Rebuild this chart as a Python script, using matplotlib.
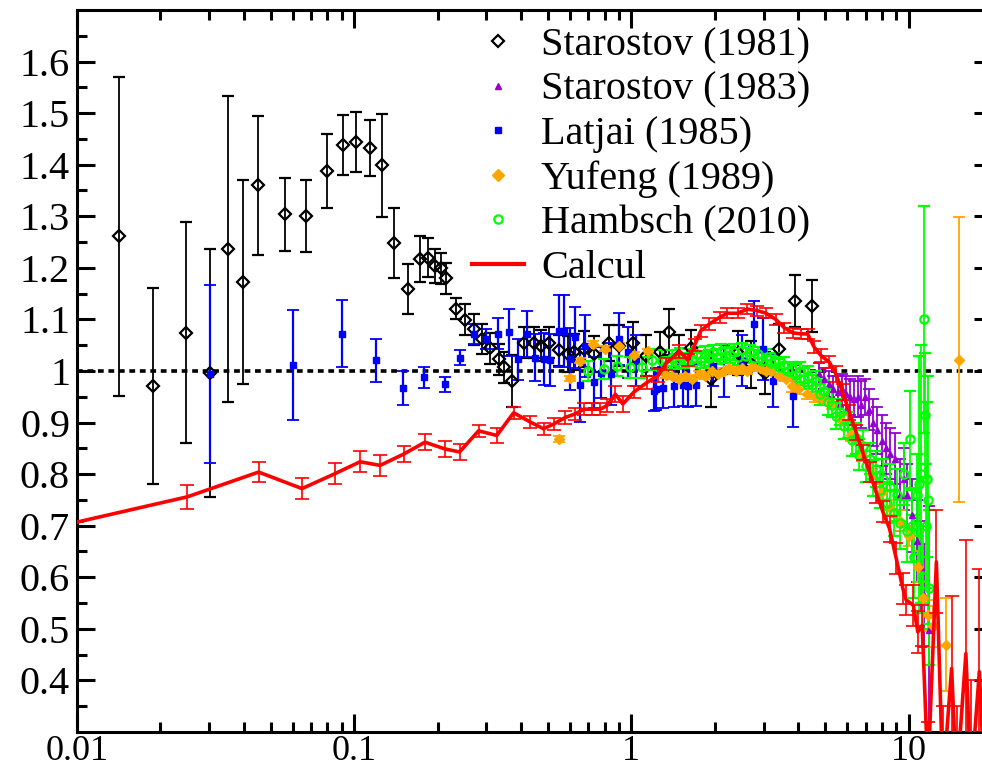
import numpy as np
import matplotlib
matplotlib.use("Agg")
import matplotlib.pyplot as plt
from matplotlib.lines import Line2D
from matplotlib.ticker import LogLocator, NullFormatter, FixedLocator

plt.rcParams['font.family'] = ['Liberation Serif', 'DejaVu Serif']

# Starostov (1981)
star81_x = [0.0142, 0.01875, 0.0247, 0.0302, 0.0352, 0.0398, 0.0449, 0.0564, 0.067, 0.0797,
            0.0914, 0.1016, 0.1143, 0.126, 0.139, 0.156, 0.173, 0.185, 0.195, 0.2056,
            0.214, 0.233, 0.252, 0.27, 0.289, 0.31, 0.332, 0.346, 0.371, 0.411,
            0.446, 0.471, 0.505, 0.547, 0.589, 0.623, 0.676, 0.735, 0.833, 0.905,
            1.016, 1.13, 1.27, 1.37, 1.49, 1.64, 1.94, 2.42, 2.7, 3.04,
            3.4, 3.88, 4.5]
star81_y = [1.261, 0.970, 1.074, 0.996, 1.237, 1.172, 1.360, 1.304, 1.301, 1.388,
            1.438, 1.444, 1.432, 1.399, 1.248, 1.159, 1.217, 1.220, 1.204, 1.199,
            1.180, 1.121, 1.099, 1.081, 1.062, 1.044, 1.023, 1.007, 0.981, 1.055,
            1.055, 1.049, 1.055, 1.040, 1.033, 1.036, 1.043, 1.033, 1.055, 1.049,
            1.055, 1.030, 1.036, 1.076, 1.030, 1.045, 0.985, 1.035, 1.013, 0.996,
            1.042, 1.136, 1.126]
star81_e = [0.31, 0.19, 0.214, 0.24, 0.297, 0.198, 0.135, 0.071, 0.07, 0.071,
            0.058, 0.059, 0.054, 0.1, 0.068, 0.048, 0.045, 0.037, 0.033, 0.03,
            0.03, 0.02, 0.03, 0.03, 0.03, 0.03, 0.03, 0.03, 0.05, 0.03,
            0.03, 0.03, 0.03, 0.03, 0.035, 0.035, 0.035, 0.035, 0.035, 0.04,
            0.04, 0.04, 0.04, 0.045, 0.04, 0.035, 0.055, 0.043, 0.046, 0.04,
            0.05, 0.05, 0.05]

# Starostov (1983)
star83_x = [4.77, 4.95, 5.15, 5.35, 5.55, 5.75, 5.95, 6.15, 6.35, 6.55,
            6.75, 6.95, 7.2, 7.45, 7.7, 8.0, 8.3, 8.6, 8.9, 9.3,
            9.6, 9.9, 10.3, 10.7, 11.1, 11.4, 11.9]
star83_y = [0.995, 0.985, 0.975, 0.965, 0.960, 0.965, 0.955, 0.950, 0.945, 0.950,
            0.935, 0.950, 0.925, 0.900, 0.885, 0.865, 0.850, 0.840, 0.830, 0.760,
            0.790, 0.760, 0.720, 0.670, 0.620, 0.565, 0.497]
star83_e = [0.02, 0.02, 0.025, 0.025, 0.03, 0.03, 0.035, 0.035, 0.035, 0.04,
            0.045, 0.035, 0.04, 0.045, 0.045, 0.05, 0.05, 0.05, 0.05, 0.07,
            0.06, 0.06, 0.07, 0.08, 0.09, 0.1, 0.242]

# Latjai (1985)
latj_x = [0.0302, 0.0601, 0.0902, 0.1197, 0.1497, 0.179, 0.212, 0.24, 0.27, 0.30,
          0.33, 0.361, 0.39, 0.42, 0.45, 0.482, 0.51, 0.547, 0.57, 0.603,
          0.628, 0.65, 0.682, 0.735, 0.78, 0.845, 0.905, 0.97, 1.04, 1.21,
          1.23, 1.30, 1.42, 1.53, 1.60, 1.71, 1.97, 2.15, 2.5, 2.78,
          2.98, 3.24, 3.83]
latj_y = [0.994, 1.012, 1.072, 1.021, 0.967, 0.988, 0.974, 1.026, 1.072, 1.062,
          1.072, 1.075, 1.023, 1.072, 1.026, 1.023, 1.021, 1.078, 1.078, 1.023,
          1.065, 0.972, 1.049, 0.978, 0.997, 0.994, 1.062, 1.036, 1.020, 0.962,
          0.965, 0.968, 0.970, 0.973, 0.970, 0.973, 1.010, 1.000, 1.020, 1.091,
          1.043, 0.981, 0.952]
latj_e = [0.172, 0.107, 0.065, 0.042, 0.033, 0.02, 0.015, 0.015, 0.02, 0.02,
          0.03, 0.045, 0.04, 0.045, 0.045, 0.05, 0.05, 0.07, 0.07, 0.06,
          0.06, 0.07, 0.06, 0.05, 0.05, 0.06, 0.05, 0.05, 0.05, 0.04,
          0.04, 0.04, 0.04, 0.04, 0.04, 0.04, 0.04, 0.05, 0.05, 0.045,
          0.06, 0.05, 0.06]

# Yufeng (1989)
yuf_x = [0.55, 0.603, 0.652, 0.73, 0.806, 0.9, 1.025, 1.15, 1.33, 1.40,
         1.48, 1.56, 1.65, 1.75, 1.85, 1.95, 2.05, 2.15, 2.25, 2.38,
         2.5, 2.62, 2.75, 2.9, 3.05, 3.2, 3.4, 3.6, 3.8, 4.0,
         4.3, 4.6, 4.9, 5.3, 5.7, 6.2, 6.8, 7.4, 8.0, 8.6,
         9.3, 10.0, 10.8, 11.3, 11.8, 12.3, 13.7, 15.2]
yuf_y = [0.868, 0.986, 1.020, 1.053, 1.043, 1.049, 1.031, 1.038, 0.992, 0.990,
         0.985, 0.990, 0.985, 0.995, 0.990, 1.000, 0.995, 1.000, 1.005, 1.000,
         1.005, 1.000, 1.010, 1.005, 1.000, 1.000, 0.990, 0.985, 0.970, 0.965,
         0.955, 0.950, 0.946, 0.936, 0.905, 0.875, 0.835, 0.800, 0.765, 0.735,
         0.710, 0.680, 0.620, 0.560, 0.526, 0.505, 0.469, 1.022]
yuf_e = [0.005, 0.005, 0.005, 0.005, 0.005, 0.005, 0.005, 0.005, 0.005, 0.005,
         0.005, 0.005, 0.005, 0.005, 0.005, 0.005, 0.005, 0.005, 0.005, 0.005,
         0.005, 0.005, 0.005, 0.005, 0.005, 0.005, 0.005, 0.005, 0.01, 0.01,
         0.01, 0.01, 0.01, 0.01, 0.01, 0.01, 0.01, 0.01, 0.015, 0.015,
         0.02, 0.02, 0.03, 0.03, 0.03, 0.04, 0.09, 0.276]

# Hambsch (2010)
hamb_x = [0.695, 0.797, 0.89, 0.99, 1.09, 1.19, 1.29, 1.35, 1.40, 1.45,
          1.50, 1.55, 1.60, 1.66, 1.72, 1.78, 1.84, 1.90, 1.97, 2.04,
          2.11, 2.18, 2.26, 2.34, 2.42, 2.50, 2.59, 2.68, 2.77, 2.87,
          2.97, 3.08, 3.19, 3.30, 3.42, 3.54, 3.66, 3.79, 3.92, 4.06,
          4.20, 4.35, 4.50, 4.63, 4.80, 4.95, 5.10, 5.30, 5.47, 5.65,
          5.85, 6.05, 6.25, 6.47, 6.65, 6.84, 7.03, 7.23, 7.45, 7.65,
          7.90, 8.10, 8.35, 8.60, 8.85, 9.10, 9.35, 9.60, 9.85, 10.1,
          10.3, 10.5, 10.7, 10.9, 11.1, 11.25, 11.4, 11.5, 11.6, 11.7,
          11.8, 11.9]
hamb_y = [1.000, 1.004, 1.010, 1.007, 1.007, 1.022, 1.020, 1.012, 1.025, 1.018,
          1.030, 1.020, 1.028, 1.024, 1.032, 1.020, 1.033, 1.025, 1.036, 1.028,
          1.038, 1.030, 1.031, 1.037, 1.027, 1.040, 1.030, 1.036, 1.025, 1.032,
          1.020, 1.027, 1.015, 1.020, 1.008, 1.012, 1.000, 1.003, 0.993, 0.998,
          0.985, 0.990, 0.972, 0.980, 0.955, 0.962, 0.940, 0.935, 0.912, 0.920,
          0.893, 0.895, 0.866, 0.870, 0.838, 0.855, 0.815, 0.830, 0.792, 0.810,
          0.770, 0.790, 0.745, 0.775, 0.725, 0.760, 0.705, 0.800, 0.690, 0.868,
          0.700, 0.640, 0.760, 0.780, 0.800, 0.600, 1.100, 0.914, 0.700, 0.790,
          0.750, 0.580]
hamb_e = [0.02, 0.02, 0.02, 0.02, 0.02, 0.02, 0.02, 0.015, 0.015, 0.015,
          0.015, 0.015, 0.015, 0.015, 0.015, 0.015, 0.015, 0.015, 0.015, 0.015,
          0.015, 0.015, 0.015, 0.015, 0.015, 0.015, 0.015, 0.015, 0.015, 0.015,
          0.015, 0.015, 0.015, 0.015, 0.015, 0.015, 0.015, 0.015, 0.02, 0.02,
          0.02, 0.02, 0.02, 0.02, 0.02, 0.02, 0.025, 0.025, 0.025, 0.025,
          0.025, 0.025, 0.03, 0.03, 0.03, 0.03, 0.03, 0.03, 0.035, 0.035,
          0.035, 0.04, 0.04, 0.045, 0.045, 0.05, 0.05, 0.06, 0.06, 0.094,
          0.07, 0.08, 0.08, 0.25, 0.25, 0.1, 0.22, 0.12, 0.12, 0.15,
          0.24, 0.15]

# Calcul
calc_x = [0.01, 0.025, 0.0452, 0.0648, 0.0853, 0.105, 0.124, 0.151, 0.18, 0.212,
          0.24, 0.281, 0.327, 0.376, 0.432, 0.482, 0.524, 0.578, 0.628, 0.673,
          0.722, 0.773, 0.817, 0.875, 0.932, 1.02, 1.14, 1.25, 1.33, 1.49,
          1.6, 1.69, 1.78, 1.91, 2.08, 2.22, 2.42, 2.62, 2.85, 3.06,
          3.32, 3.56, 3.82, 4.09, 4.32, 4.57, 4.83, 5.18, 5.47, 5.78,
          6.12, 6.47, 6.84, 7.23, 7.64, 8.08, 8.54, 9.03, 9.54, 9.8,
          10.4, 10.8, 11.2, 11.75, 12.6, 13.3, 14.3, 14.9, 16.1, 16.8,
          18.0, 18.8, 19.6]
calc_y = [0.707, 0.756, 0.804, 0.772, 0.801, 0.824, 0.817, 0.839, 0.862, 0.849,
          0.843, 0.884, 0.875, 0.919, 0.901, 0.888, 0.897, 0.910, 0.917, 0.926,
          0.926, 0.926, 0.933, 0.955, 0.936, 0.959, 0.978, 0.991, 1.014, 1.038,
          1.021, 1.050, 1.078, 1.091, 1.104, 1.112, 1.112, 1.120, 1.117, 1.112,
          1.100, 1.084, 1.074, 1.072, 1.072, 1.046, 1.030, 1.017, 0.994, 0.959,
          0.920, 0.881, 0.842, 0.804, 0.765, 0.727, 0.694, 0.636, 0.578, 0.556,
          0.546, 0.494, 0.507, 0.220, 0.630, 0.200, 0.423, 0.200, 0.452, 0.200,
          0.417, 0.200, 0.450]
calc_e = [0.0, 0.023, 0.02, 0.02, 0.02, 0.02, 0.02, 0.015, 0.015, 0.015,
          0.015, 0.012, 0.015, 0.012, 0.012, 0.012, 0.012, 0.012, 0.012, 0.012,
          0.012, 0.012, 0.012, 0.015, 0.015, 0.012, 0.012, 0.012, 0.012, 0.012,
          0.012, 0.012, 0.012, 0.012, 0.01, 0.01, 0.01, 0.01, 0.01, 0.01,
          0.01, 0.01, 0.01, 0.01, 0.01, 0.012, 0.012, 0.012, 0.015, 0.015,
          0.015, 0.015, 0.015, 0.02, 0.02, 0.02, 0.025, 0.03, 0.03, 0.03,
          0.04, 0.04, 0.04, 0.1, 0.1, 0.15, 0.14, 0.15, 0.22, 0.2,
          0.2, 0.2, 0.2]

black = 'black'
purple = '#9400D3'
blue = '#0000FF'
orange = '#FFA500'
green = '#00FF00'
red = '#FF0000'

fig = plt.figure(figsize=(9.82, 7.75), dpi=100)
ax = fig.add_axes([77 / 982, 43 / 775, (992 - 77) / 982, 722 / 775])

# reference line at ratio 1
ax.axhline(1.0, color='black', lw=2.6, ls=(0, (1.6, 1.3)), zorder=1)

ax.errorbar(star81_x, star81_y, yerr=star81_e, fmt='D', ms=6, mfc='none', mec=black,
            mew=1.6, ecolor=black, elinewidth=1.3, capsize=4.5, capthick=1.3, zorder=3)
ax.errorbar(star83_x, star83_y, yerr=star83_e, fmt='^', ms=5, color=purple,
            ecolor=purple, elinewidth=1.3, capsize=4, capthick=1.3, zorder=3)
ax.errorbar(latj_x, latj_y, yerr=latj_e, fmt='s', ms=5, color=blue,
            ecolor=blue, elinewidth=1.6, capsize=4, capthick=1.3, zorder=3)
ax.errorbar(yuf_x, yuf_y, yerr=yuf_e, fmt='D', ms=5.5, color=orange,
            ecolor=orange, elinewidth=1.3, capsize=4, capthick=1.3, zorder=3)
ax.errorbar(hamb_x, hamb_y, yerr=hamb_e, fmt='o', ms=6, mfc='none', mec=green,
            mew=1.6, ecolor=green, elinewidth=1.3, capsize=4, capthick=1.3, zorder=3)
ax.errorbar(calc_x, calc_y, yerr=calc_e, fmt='-', color=red, lw=2.6,
            ecolor=red, elinewidth=1.2, capsize=5, capthick=1.2, zorder=4)

ax.set_xscale('log')
ax.set_xlim(0.01, 20)
ax.set_ylim(0.3, 1.7)

ax.set_xticks([0.01, 0.1, 1, 10])
ax.set_xticklabels(['0.01', '0.1', '1', '10'])
ax.xaxis.set_minor_locator(LogLocator(base=10, subs=np.arange(2, 10)))
ax.xaxis.set_minor_formatter(NullFormatter())

yt = [0.4, 0.5, 0.6, 0.7, 0.8, 0.9, 1.0, 1.1, 1.2, 1.3, 1.4, 1.5, 1.6]
ax.set_yticks(yt)
ax.set_yticklabels(['%g' % v for v in yt])
ax.yaxis.set_minor_locator(FixedLocator([0.35, 0.45, 0.55, 0.65, 0.75, 0.85, 0.95,
                                         1.05, 1.15, 1.25, 1.35, 1.45, 1.55, 1.65]))

ax.tick_params(which='both', direction='in', top=True, right=True)
ax.tick_params(which='major', length=13, width=2.2)
ax.tick_params(which='minor', length=7, width=2.2)
ax.tick_params(axis='y', pad=5, labelsize=29)
ax.tick_params(axis='x', pad=2, labelsize=26)
for s in ax.spines.values():
    s.set_linewidth(2.2)

handles = [
    Line2D([], [], ls='none', marker='D', ms=6, mfc='none', mec=black, mew=1.6),
    Line2D([], [], ls='none', marker='^', ms=5, color=purple),
    Line2D([], [], ls='none', marker='s', ms=5, color=blue),
    Line2D([], [], ls='none', marker='D', ms=6, color=orange),
    Line2D([], [], ls='none', marker='o', ms=6, mfc='none', mec=green, mew=1.6),
    Line2D([], [], color=red, lw=3),
]
labels = ['Starostov (1981)', 'Starostov (1983)', 'Latjai (1985)',
          'Yufeng (1989)', 'Hambsch (2010)', 'Calcul']
ax.legend(handles, labels, loc='upper left', bbox_to_anchor=(472 / 982, 1 - 27 / 775),
          bbox_transform=fig.transFigure, frameon=False, fontsize=29,
          borderpad=0, borderaxespad=0, handlelength=1.3, handletextpad=0.42,
          labelspacing=0.18)

fig.savefig('out.png', dpi=100)
